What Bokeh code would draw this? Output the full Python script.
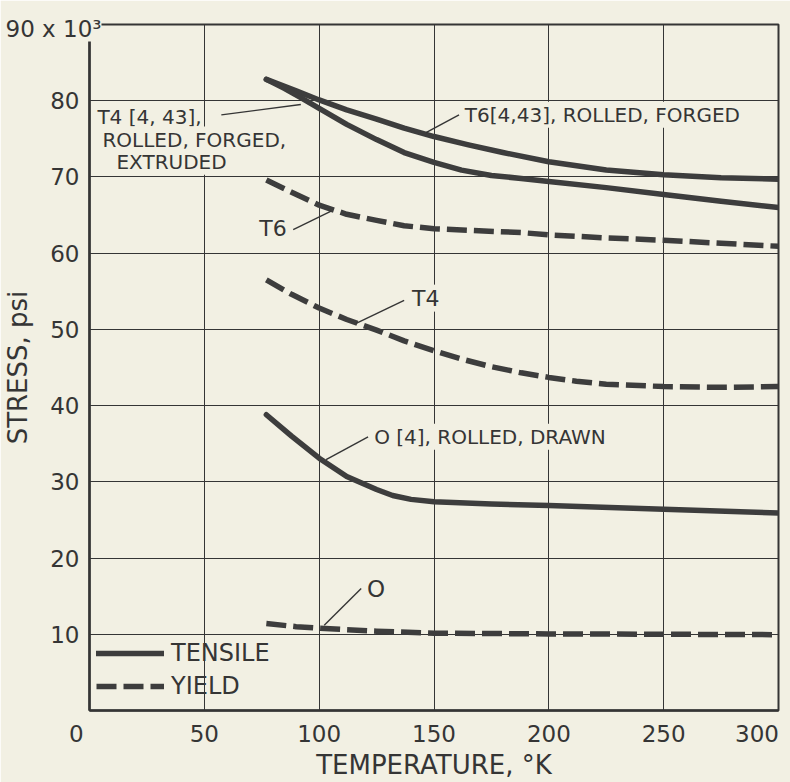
from bokeh.plotting import figure
from bokeh.models import Label, Legend, LegendItem, FixedTicker, Range1d
from bokeh.embed import file_html
from bokeh.resources import INLINE

# ---------------- data ----------------
t6_tensile_x = [77, 90, 100, 112, 125, 137, 150, 165, 180, 200, 225, 250, 275, 300]
t6_tensile_y = [82.8, 81.3, 80.1, 78.8, 77.6, 76.4, 75.3, 74.2, 73.2, 72.0, 70.9, 70.3, 69.9, 69.7]

t4_tensile_x = [77, 85, 92, 100, 112, 125, 137, 150, 162, 175, 188, 200, 225, 250, 275, 300]
t4_tensile_y = [82.8, 81.6, 80.4, 79.0, 76.9, 74.9, 73.2, 71.9, 70.9, 70.2, 69.8, 69.4, 68.6, 67.7, 66.8, 66.0]

t6_yield_x = [77, 88, 100, 112, 125, 137, 150, 165, 188, 200, 225, 250, 275, 300]
t6_yield_y = [69.6, 68.0, 66.3, 65.1, 64.3, 63.6, 63.2, 63.0, 62.7, 62.4, 62.0, 61.7, 61.3, 60.9]

t4_yield_x = [77, 88, 100, 112, 125, 137, 150, 162, 175, 188, 200, 212, 225, 250, 275, 300]
t4_yield_y = [56.5, 54.6, 52.8, 51.3, 49.9, 48.5, 47.2, 46.1, 45.1, 44.3, 43.7, 43.2, 42.8, 42.5, 42.4, 42.5]

o_tensile_x = [77, 88, 100, 112, 125, 132, 140, 150, 175, 200, 250, 300]
o_tensile_y = [38.8, 36.0, 33.1, 30.7, 29.0, 28.2, 27.7, 27.4, 27.1, 26.9, 26.4, 25.9]

o_yield_x = [77, 90, 100, 112, 125, 150, 175, 200, 250, 300]
o_yield_y = [11.4, 11.0, 10.8, 10.6, 10.4, 10.15, 10.1, 10.05, 10.0, 9.95]

x_ticks = [0, 50, 100, 150, 200, 250, 300]
y_ticks = [0, 10, 20, 30, 40, 50, 60, 70, 80, 90]
y_unit_label = "90 x 10³"

# annotation texts: (text, x, y, font size)
annotations = [
    ("T4 [4, 43],", 3.0, 77.8, "20px"),
    ("ROLLED, FORGED,", 5.2, 74.9, "20px"),
    ("EXTRUDED", 11.3, 72.0, "20px"),
    ("T6[4,43], ROLLED, FORGED", 163.0, 78.15, "20px"),
    ("T6", 73.5, 63.3, "22px"),
    ("T4", 140.0, 54.1, "22px"),
    ("O [4],  ROLLED, DRAWN", 123.5, 35.9, "20px"),
    ("O", 120.4, 16.0, "23px"),
]
# leader lines: from label to curve
leader_x0 = [57.4, 160.9, 88.7, 137.0, 121.3, 118.3]
leader_y0 = [78.15, 78.15, 63.1, 53.8, 35.9, 16.0]
leader_x1 = [92.0, 146.5, 105.2, 116.1, 103.0, 102.2]
leader_y1 = [79.5, 75.8, 65.5, 50.8, 32.9, 11.2]

BG = "#f2f0e3"
INK = "#353535"
CURVE = "#3d3d3d"
FONT = "DejaVu Sans"
FIG_SP = "\u2007"
EN_SP = "\u2002"

p = figure(width=790, height=782, x_range=Range1d(0, 300), y_range=Range1d(0, 90),
           output_backend="svg", toolbar_location=None,
           min_border_left=88, min_border_right=12, min_border_top=24, min_border_bottom=66,
           background_fill_color=BG, border_fill_color=BG)

# "90 x 10^3" unit label drawn as the (left aligned) title
p.title.text = y_unit_label
p.title.align = "left"
p.title.offset = -84
p.title.standoff = -34
p.title.text_font = FONT
p.title.text_font_size = "23px"
p.title.text_font_style = "normal"
p.title.text_color = INK
p.title.background_fill_color = BG

# axes
p.xaxis.ticker = FixedTicker(ticks=x_ticks)
p.yaxis.ticker = FixedTicker(ticks=y_ticks)
# shift the corner "0" and the last "300" a bit to the left, as in the reference
p.xaxis.major_label_overrides = {0: "0" + FIG_SP + EN_SP, 300: "300" + EN_SP}
p.yaxis.major_label_overrides = {0: "", 90: ""}
for ax in (p.xaxis, p.yaxis):
    ax.major_tick_in = 0
    ax.major_tick_out = 0
    ax.minor_tick_in = 0
    ax.minor_tick_out = 0
    ax.axis_line_color = INK
    ax.axis_line_width = 2.5
    ax.major_label_text_font = FONT
    ax.major_label_text_font_size = "23px"
    ax.major_label_text_color = INK
    ax.axis_label_text_font = FONT
    ax.axis_label_text_font_style = "normal"
    ax.axis_label_text_font_size = "26px"
    ax.axis_label_text_color = INK
p.xaxis.axis_label = "TEMPERATURE, °K"
p.yaxis.axis_label = "STRESS, psi"
p.xaxis.major_label_standoff = 10
p.yaxis.major_label_standoff = 10
p.xaxis.axis_label_standoff = 0
p.yaxis.axis_label_standoff = 14

p.grid.grid_line_color = INK
p.grid.grid_line_width = 1.0
p.outline_line_color = INK
p.outline_line_width = 2

# curves
solid = dict(line_color=CURVE, line_width=5.5, line_cap="round", line_join="round")
dashed = dict(line_color=CURVE, line_width=5.5, line_dash="20 7", line_cap="butt", line_join="round")
r_t6t = p.line(t6_tensile_x, t6_tensile_y, **solid)
p.line(t4_tensile_x, t4_tensile_y, **solid)
p.line(o_tensile_x, o_tensile_y, **solid)
r_t6y = p.line(t6_yield_x, t6_yield_y, **dashed)
p.line(t4_yield_x, t4_yield_y, **dashed)
p.line(o_yield_x, o_yield_y, **dashed)

# leader lines
p.segment(leader_x0, leader_y0, leader_x1, leader_y1, line_color=INK, line_width=1.4)

# labels
for txt, x, y, fs in annotations:
    p.add_layout(Label(x=x, y=y, text=txt, text_align="left", text_baseline="middle",
                       text_font=FONT, text_font_size=fs, text_color=INK,
                       background_fill_color=BG, padding=1))

# legend
legend = Legend(items=[LegendItem(label="TENSILE", renderers=[r_t6t]),
                       LegendItem(label="YIELD", renderers=[r_t6y])],
                location=(7, 10), glyph_width=68, glyph_height=20, label_height=20,
                label_standoff=7, spacing=5, padding=0, margin=0,
                label_text_font=FONT, label_text_font_size="24px", label_text_color=INK,
                background_fill_alpha=0, border_line_alpha=0)
p.add_layout(legend)

open("out.html", "w").write(file_html(p, INLINE))
